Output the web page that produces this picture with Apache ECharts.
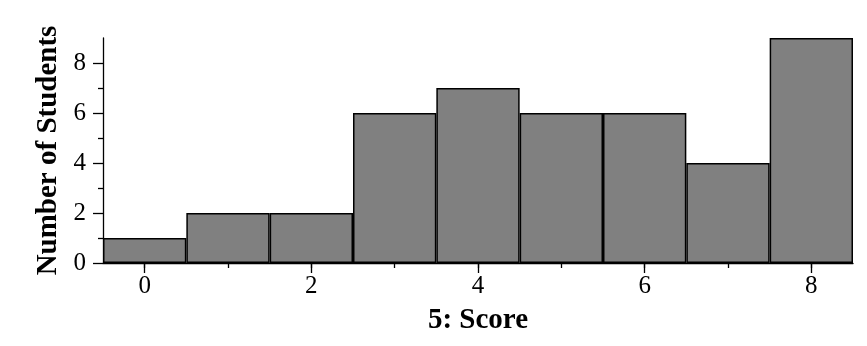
<!DOCTYPE html>
<html>
<head>
<meta charset="utf-8">
<script src="https://cdn.jsdelivr.net/npm/echarts@6/dist/echarts.min.js"></script>
<style>html,body{margin:0;padding:0;background:#fff}#c{width:867px;height:346px}</style>
</head>
<body>
<div id="c"></div>
<script>
const categories = ['0','1','2','3','4','5','6','7','8'];
const counts = [1, 2, 2, 6, 7, 6, 6, 4, 9];
const yMajorTicks = [0, 2, 4, 6, 8];
const yMinorTicks = [1, 3, 5, 7];
const xTitle = '5: Score';
const yTitle = 'Number of Students';

const chart = echarts.init(document.getElementById('c'));
const font = 'Liberation Serif';
chart.setOption({
  animation: false,
  grid: {left: 103, right: 14, top: 38, bottom: 83, containLabel: false},
  xAxis: [{
    type: 'category', data: categories, boundaryGap: true,
    axisLine: {show: true, lineStyle: {color: '#000', width: 1.3}},
    axisTick: {show: true, alignWithLabel: true, interval: 1, length: 10, lineStyle: {color: '#000', width: 1.3}},
    axisLabel: {interval: 1, color: '#000', fontFamily: font, fontSize: 25, margin: 11},
    name: xTitle, nameLocation: 'middle', nameGap: 43,
    nameTextStyle: {color: '#000', fontFamily: font, fontSize: 29, fontWeight: 'bold'},
    splitLine: {show: false}
  }, {
    type: 'category', data: categories, boundaryGap: true, position: 'bottom',
    axisLine: {show: false},
    axisTick: {show: true, alignWithLabel: true, interval: 0, length: 5, lineStyle: {color: '#000', width: 1.3}},
    axisLabel: {show: false},
    splitLine: {show: false}
  }],
  yAxis: [{
    type: 'value', min: 0, max: 9, interval: 2,
    axisLine: {show: true, lineStyle: {color: '#000', width: 1.3}},
    axisTick: {show: true, length: 10, customValues: yMajorTicks, lineStyle: {color: '#000', width: 1.3}},
    axisLabel: {color: '#000', fontFamily: font, fontSize: 25, margin: 17, customValues: yMajorTicks},
    splitLine: {show: false},
    name: yTitle, nameLocation: 'middle', nameGap: 40,
    nameTextStyle: {color: '#000', fontFamily: font, fontSize: 29, fontWeight: 'bold'}
  }, {
    type: 'value', min: 0, max: 9, position: 'left',
    axisLine: {show: false},
    axisTick: {show: true, length: 5, customValues: yMinorTicks, lineStyle: {color: '#000', width: 1.3}},
    axisLabel: {show: false},
    splitLine: {show: false}
  }],
  series: [{
    type: 'bar', data: counts, xAxisIndex: 0, yAxisIndex: 0,
    barWidth: '100%', barCategoryGap: 0,
    itemStyle: {color: '#808080', borderColor: '#000', borderWidth: 1.5}
  }]
});
</script>
</body>
</html>
